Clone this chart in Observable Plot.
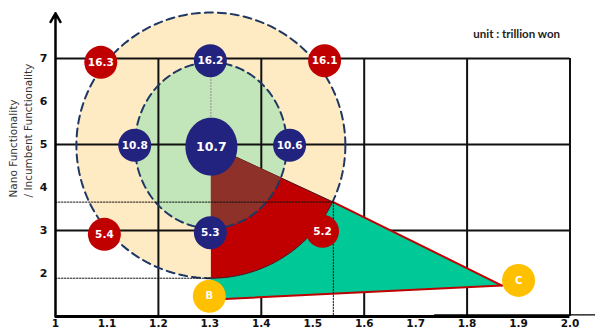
<!DOCTYPE html>
<html><head><meta charset="utf-8">
<script src="https://cdn.jsdelivr.net/npm/d3@7"></script>
<script src="https://cdn.jsdelivr.net/npm/@observablehq/plot@0.6"></script>
<style>
body{margin:0;background:#fff;}
#chart svg{display:block;}
</style></head>
<body><div id="chart"></div>
<script>
// ---- data ----
const xTicks = [1, 1.1, 1.2, 1.3, 1.4, 1.5, 1.6, 1.7, 1.8, 1.9, 2.0];
const xTickLabels = ["1", "1.1", "1.2", "1.3", "1.4", "1.5", "1.6", "1.7", "1.8", "1.9", "2.0"];
const yTicks = [2, 3, 4, 5, 6, 7];
const yTickLabels = ["2", "3", "4", "5", "6", "7"];
const gridX = [1.2, 1.4, 1.6, 1.8, 2.0];
const gridY = [3, 5, 7];

const bubbleLabels = ["16.3", "16.2", "16.1", "10.8", "10.7", "10.6", "5.4", "5.3", "5.2", "B", "C"];
const bubbleX = [1.088, 1.301, 1.523, 1.154, 1.303, 1.455, 1.095, 1.301, 1.519, 1.299, 1.900];
const bubbleY = [6.91, 6.95, 6.95, 4.98, 4.95, 4.98, 2.91, 2.95, 2.98, 1.47, 1.84];
const bubbleGroup = ["outer", "inner", "outer", "inner", "core", "inner", "outer", "inner", "outer", "point", "point"];

// zones (data units)
const zoneCenterX = 1.302, zoneCenterY = 4.98;
const outerRX = 0.2614, outerRY = 3.09;
const innerRX = 0.1477, innerRY = 1.93;
const coreRX = 0.0505, coreRY = 0.674;

// triangle B-C region
const apexX = 1.54, apexY = 3.66;
const tipX = 1.868, tipY = 1.72;
const baseX = 1.30, baseY = 1.39;

const unitText = "unit : trillion won";
const yTitle = "Nano Functionality\n/ Incumbent Functionality";

// ---- geometry helpers ----
function arc(cx, cy, rx, ry, t0, t1, n) {
  const pts = [];
  for (let i = 0; i <= n; i++) {
    const t = t0 + (t1 - t0) * i / n;
    pts.push([cx + rx * Math.cos(t), cy + ry * Math.sin(t)]);
  }
  return pts;
}
const outerPts = arc(zoneCenterX, zoneCenterY, outerRX, outerRY, 0, 2 * Math.PI, 240);
const innerPts = arc(zoneCenterX, zoneCenterY, innerRX, innerRY, 0, 2 * Math.PI, 200);
const corePts = arc(bubbleX[4], bubbleY[4], coreRX, coreRY, 0, 2 * Math.PI, 120);

const dX = apexX - zoneCenterX, dY = apexY - zoneCenterY;
const tOuter = Math.atan2(dY / outerRY, dX / outerRX);
const tInner = Math.atan2(dY / innerRY, dX / innerRX);
const redPoly = [[zoneCenterX, zoneCenterY], ...arc(zoneCenterX, zoneCenterY, outerRX, outerRY, tOuter, -Math.PI / 2, 80)];
const brownPoly = [[zoneCenterX, zoneCenterY], ...arc(zoneCenterX, zoneCenterY, innerRX, innerRY, tInner, -Math.PI / 2, 80)];
const outerBottomY = zoneCenterY - outerRY;
const greenPoly = [[zoneCenterX, outerBottomY], [apexX, apexY], [tipX, tipY], [baseX, baseY]];

const bubbles = bubbleLabels.map((t, i) => ({label: t, x: bubbleX[i], y: bubbleY[i], group: bubbleGroup[i]}));

const NAVY = "#22237e", RED = "#c00000", YELLOW = "#ffc000";
const fillOf = g => g === "outer" ? RED : g === "point" ? YELLOW : NAVY;
const labelOf = (ticks, labels) => d => labels[ticks.findIndex(v => Math.abs(v - d) < 1e-9)];
const WIDE = "'DejaVu Sans', Verdana, sans-serif";

const chart = Plot.plot({
  width: 595, height: 329,
  marginLeft: 55, marginRight: 25.5, marginTop: 58, marginBottom: 13,
  x: {domain: [1, 2]},
  y: {domain: [1, 7]},
  style: {fontFamily: "Lato, 'DejaVu Sans', sans-serif", fontSize: "11px", color: "#111", background: "#fff", overflow: "visible"},
  marks: [
    Plot.line(outerPts, {fill: "#feebc3", stroke: "none"}),
    Plot.line(innerPts, {fill: "#c2e5b9", stroke: "none"}),
    Plot.ruleX(gridX, {y1: 1, y2: 7, stroke: "#111", strokeWidth: 2}),
    Plot.ruleY(gridY, {x1: 1, x2: 2, stroke: "#111", strokeWidth: 2}),
    Plot.line([[zoneCenterX, 7], [zoneCenterX, zoneCenterY]], {stroke: "#888", strokeWidth: 1, strokeDasharray: "1,2"}),
    Plot.line(outerPts, {stroke: "#1f3763", strokeWidth: 2, strokeDasharray: "8,5"}),
    Plot.line(greenPoly, {fill: "#00c897", stroke: "none"}),
    Plot.line(redPoly, {fill: RED, stroke: "#4a1420", strokeWidth: 1}),
    Plot.line(brownPoly, {fill: "#8e3128", stroke: "none"}),
    Plot.line(innerPts, {stroke: "#1f3763", strokeWidth: 2, strokeDasharray: "8,5"}),
    Plot.line([[apexX, apexY], [tipX, tipY]], {stroke: RED, strokeWidth: 2}),
    Plot.line([[baseX, baseY], [tipX, tipY]], {stroke: RED, strokeWidth: 2}),
    Plot.line([[1, apexY], [apexX, apexY]], {stroke: "#111", strokeWidth: 1, strokeDasharray: "1.5,1.5"}),
    Plot.line([[1, outerBottomY], [zoneCenterX, outerBottomY]], {stroke: "#111", strokeWidth: 1, strokeDasharray: "1.5,1.5"}),
    Plot.line([[apexX, apexY], [apexX, 1]], {stroke: "#111", strokeWidth: 1, strokeDasharray: "1.5,1.5"}),
    Plot.ruleY([1], {x1: 1, x2: 2, stroke: "#000", strokeWidth: 3}),
    Plot.ruleY([1.04], {x1: 1.737, x2: 2.06, stroke: "#000", strokeWidth: 1.2}),
    Plot.arrow([0], {x1: 1, y1: 1, x2: 1, y2: 8.05, stroke: "#000", strokeWidth: 2.5, headLength: 6, insetEnd: 0}),
    Plot.dot(bubbles.filter(d => d.group !== "core"), {x: "x", y: "y", r: 16.5, fill: d => fillOf(d.group), stroke: "none"}),
    Plot.line(corePts, {fill: NAVY, stroke: "none"}),
    Plot.text(bubbles.filter(d => d.group === "outer" || d.group === "inner"), {x: "x", y: "y", text: "label", fill: "#fff", fontWeight: "bold", fontSize: 10.5, fontFamily: WIDE}),
    Plot.text(bubbles.filter(d => d.group === "core"), {x: "x", y: "y", text: "label", fill: "#fff", fontWeight: "bold", fontSize: 12.5, fontFamily: WIDE}),
    Plot.text(bubbles.filter(d => d.group === "point"), {x: "x", y: "y", text: "label", fill: "#fff", fontWeight: "bold", fontSize: 10, fontFamily: WIDE}),
    Plot.axisX({ticks: xTicks, tickSize: 0, tickPadding: 3, tickFormat: labelOf(xTicks, xTickLabels), label: null, fontWeight: "bold", fontSize: 10.5, fontFamily: WIDE}),
    Plot.axisY({ticks: yTicks, tickSize: 0, tickPadding: 8, tickFormat: labelOf(yTicks, yTickLabels), label: null, fontWeight: "bold", fontSize: 11, fontFamily: WIDE}),
    Plot.text([yTitle], {frameAnchor: "left", rotate: -90, textAnchor: "start", lineAnchor: "middle", dx: -35.5, dy: 10, fontSize: 10.5, fill: "#333", lineHeight: 1.35, fontFamily: WIDE}),
    Plot.text([unitText], {frameAnchor: "top-right", textAnchor: "end", lineAnchor: "middle", dx: -10, dy: -24, fontSize: 11.5, fontWeight: "bold", fill: "#222"})
  ]
});
document.getElementById("chart").appendChild(chart);
</script>
</body></html>
